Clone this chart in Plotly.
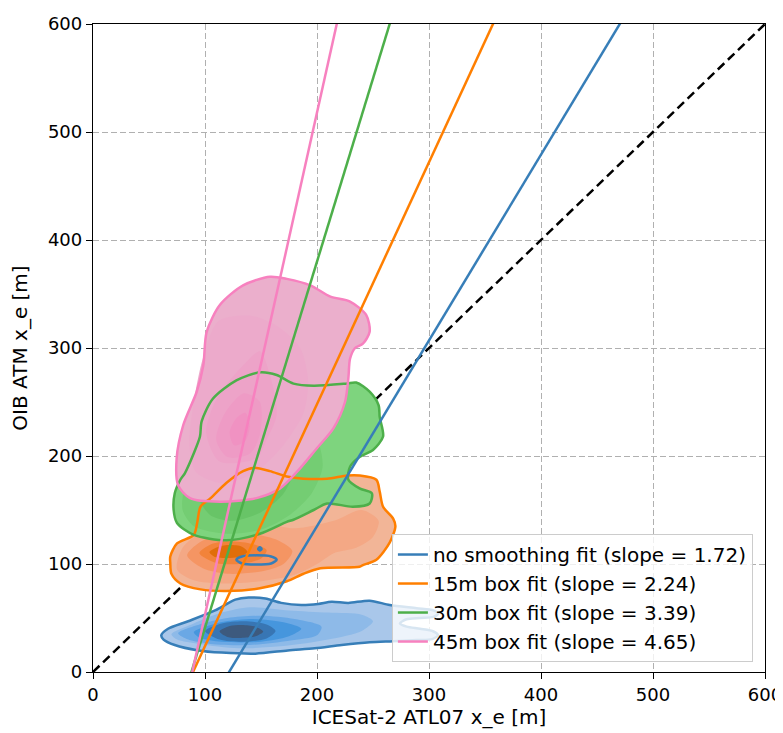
import plotly.graph_objects as go

# ---------------- data ----------------
axis_ticks = [0, 100, 200, 300, 400, 500, 600]
tick_labels = ["0", "100", "200", "300", "400", "500", "600"]

fit_names = ["no smoothing fit (slope = 1.72)", "15m box fit (slope = 2.24)",
             "30m box fit (slope = 3.39)", "45m box fit (slope = 4.65)"]
fit_slopes = [1.72, 2.24, 3.39, 4.65]
fit_intercepts = [-209.0, -200.0, -298.0, -412.0]
fit_x = [0, 600]
diag_x = [0, 600]

# KDE density contours (x, y) — outer level first
blue_levels = [
    [(61, 34), (67, 40), (85, 47), (109, 57), (127, 67), (139, 69), (154, 68), (168, 64), (186, 62),
     (201, 63), (213, 65), (228, 64), (247, 66), (265, 62), (289, 59), (304, 57), (308, 54), (304, 51),
     (292, 50), (280, 48.8), (274, 45), (280, 42), (292, 40), (304, 37.5), (308, 34), (303, 30.5),
     (289, 29.6), (268, 28.5), (247, 27.5), (222, 25), (198, 22), (174, 20), (145, 17), (115, 18),
     (94, 20), (73, 25), (63, 30)],
    [(70, 35), (90, 45), (115, 55), (140, 60), (175, 57), (210, 55), (240, 53), (250, 47), (240, 38),
     (210, 30), (170, 24), (130, 22), (95, 26), (75, 30)],
    [(76, 36), (95, 44), (120, 50), (150, 52), (180, 49), (204, 42), (200, 34), (175, 29), (140, 25),
     (105, 26), (85, 30)],
    [(90, 37), (110, 45), (140, 49), (170, 46), (186, 40), (175, 33), (150, 28), (115, 28), (95, 32)],
    [(100, 38), (115, 45), (135, 47), (155, 44), (163, 38), (155, 31), (135, 28), (113, 30)],
    [(113, 37.5), (122, 42.5), (133, 43.5), (145, 42), (152, 37.5), (145, 33), (132, 31.5), (120, 32.5)],
]
blue_islands = [
    [(128, 104), (133, 107), (146, 108), (159, 107), (164, 104), (159, 100.5), (146, 99.5), (133, 100.5)],
    [(147.5, 114), (149, 115.5), (150.5, 114), (149, 112.5)],
]

orange_levels = [
    [(69, 107), (75, 119), (90, 127), (93, 138), (96, 153), (105, 161), (119, 175), (134, 186),
     (143, 189), (158, 186), (173, 181), (188, 179), (209, 179), (227, 182), (238, 182), (253, 178),
     (256, 167), (259, 153), (268, 142), (270, 135), (265, 120), (253, 104), (241, 99), (238, 97.5),
     (203, 96), (188, 91), (173, 84), (149, 77.5), (119, 75), (96, 76.5), (78, 82), (70, 91), (69, 101)],
    [(75, 95), (80, 115), (95, 128), (120, 135), (150, 138), (180, 133), (215, 140), (240, 150),
     (255, 140), (250, 125), (235, 115), (215, 110), (200, 100), (180, 90), (150, 84), (115, 82), (90, 85)],
    [(84, 108), (95, 120), (115, 127), (140, 128), (165, 122), (178, 112), (170, 100), (150, 93),
     (120, 91), (98, 96)],
    [(95, 110), (105, 118), (120, 121), (140, 119), (155, 113), (150, 105), (130, 100), (110, 101)],
    [(104, 111), (112, 116), (122, 117.5), (133, 116), (138, 111), (130, 106.5), (118, 105.5), (108, 107)],
]

green_levels = [
    [(97, 232), (107, 253), (128, 270), (149, 277.5), (164, 275), (179, 267), (197, 265), (226, 267),
     (235, 268), (247, 259.5), (255, 247), (256, 236), (259, 218), (250, 205.5), (238, 199), (229.5, 190),
     (228, 178), (238, 170), (249, 165.5), (247, 156), (232, 153), (209, 156), (197, 150), (179, 141),
     (173, 139), (149, 128), (119, 122), (90, 127), (75, 138), (72, 150), (73, 165.5), (78, 178),
     (82, 184), (90, 202.5), (95.5, 218)],
    [(80, 150), (90, 135), (120, 128), (150, 132), (175, 145), (195, 165), (205, 190), (200, 215),
     (180, 235), (150, 245), (120, 240), (100, 225), (88, 200), (82, 175)],
    [(95, 160), (105, 145), (125, 140), (150, 148), (170, 165), (180, 190), (170, 215), (145, 225),
     (120, 220), (102, 200), (96, 180)],
    [(108, 170), (120, 158), (140, 162), (155, 180), (150, 200), (132, 205), (115, 195)],
]

pink_levels = [
    [(158, 366), (173, 364), (194, 358), (212, 347.5), (229.5, 343), (244, 330.5), (247, 315), (241, 304),
     (234, 300), (229.5, 290), (228, 272), (225, 250), (214.6, 225.6), (199.7, 207), (181.8, 185),
     (167, 170), (146, 161), (113.4, 157.7), (86.6, 161), (76, 173), (74.7, 198), (80.6, 228.7),
     (92.6, 259.5), (98.5, 284), (101.5, 315), (113.4, 340), (134, 358)],
    [(112, 325), (140, 330), (165, 320), (185, 300), (192, 270), (188, 240), (170, 210), (145, 185),
     (115, 175), (92, 185), (86, 210), (90, 250), (98, 290)],
    [(119, 266), (135, 285), (149, 297), (158, 275), (164, 238), (155, 215), (146, 198), (113, 195),
     (101, 222), (108, 248)],
    [(110, 215), (118, 240), (135, 258), (149, 250), (149, 220), (140, 202), (120, 199)],
    [(122, 222), (128, 235), (136, 240), (140, 228), (136, 214), (126, 210)],
]

# ---------------- styles ----------------
line_colors = ["#377eb8", "#ff7f00", "#4daf4a", "#f781bf"]
blue_fills = ["#a9c7ea", "#8ebae8", "#6aa8e5", "#4696dd", "#3876b4", "#3d5a7e"]
orange_fills = ["#f2b597", "#f4a885", "#f59563", "#f2833a", "#e06e0a"]
green_fills = ["#7ed47e", "#74cd73", "#68c467", "#5cb95c"]
pink_fills = ["#ebafcc", "#ecaacb", "#eda3c8", "#ee9bc5", "#f092c2"]

FONT = "DejaVu Sans"
SMOOTH = dict(shape="spline", smoothing=0.8)
fig = go.Figure()


def closed(poly):
    xs = [p[0] for p in poly] + [poly[0][0]]
    ys = [p[1] for p in poly] + [poly[0][1]]
    return xs, ys


# diagonal 1:1 line (below the densities)
fig.add_trace(go.Scatter(x=diag_x, y=diag_x, mode="lines", showlegend=False, hoverinfo="skip",
                         line=dict(color="black", width=2.5, dash="9px,5px")))

# filled density levels
for levels, fills in [(blue_levels, blue_fills), (orange_levels, orange_fills),
                      (green_levels, green_fills), (pink_levels, pink_fills)]:
    for poly, col in zip(levels, fills):
        xs, ys = closed(poly)
        fig.add_trace(go.Scatter(x=xs, y=ys, mode="lines", fill="toself", fillcolor=col,
                                 line=dict(width=0, color=col, **SMOOTH), showlegend=False, hoverinfo="skip"))

# outlines
outline_sets = [(blue_levels[:1] + blue_islands, line_colors[0]),
                (orange_levels[:1], line_colors[1]),
                (green_levels[:1], line_colors[2]),
                (pink_levels[:1], line_colors[3])]
for polys, col in outline_sets:
    for poly in polys:
        xs, ys = closed(poly)
        fig.add_trace(go.Scatter(x=xs, y=ys, mode="lines", line=dict(color=col, width=2.5, **SMOOTH),
                                 showlegend=False, hoverinfo="skip"))

# fit lines
for name, m, b, col in zip(fit_names, fit_slopes, fit_intercepts, line_colors):
    fig.add_trace(go.Scatter(x=fit_x, y=[m * x + b for x in fit_x], mode="lines", name=name,
                             line=dict(color=col, width=2.5)))

axis_common = dict(
    range=[0, 600], tickvals=axis_ticks, ticktext=tick_labels,
    showgrid=True, gridcolor="#b0b0b0", griddash="6px,3px", gridwidth=1,
    showline=True, linecolor="black", linewidth=1.3, mirror=True,
    ticks="outside", ticklen=6, tickwidth=1.2, tickcolor="black",
    tickfont=dict(family=FONT, size=18, color="black"),
    zeroline=False, layer="above traces", automargin=False,
)

# the page places the figure 8px in from the top-left corner
fig.update_layout(
    width=775, height=725,
    margin=dict(l=85, r=18, t=16, b=61),
    paper_bgcolor="white", plot_bgcolor="white",
    font=dict(family=FONT, color="black"),
    xaxis=dict(**axis_common, title=dict(text="ICESat-2 ATL07 x_e [m]", font=dict(family=FONT, size=20), standoff=6)),
    yaxis=dict(**axis_common, title=dict(text="OIB ATM x_e [m]", font=dict(family=FONT, size=20), standoff=14)),
    legend=dict(x=0.982, y=0.0154, xanchor="right", yanchor="bottom",
                bgcolor="rgba(255,255,255,0.8)", bordercolor="#cccccc", borderwidth=1,
                font=dict(family=FONT, size=20, color="black")),
    showlegend=True,
)

fig.write_html("out.html")
